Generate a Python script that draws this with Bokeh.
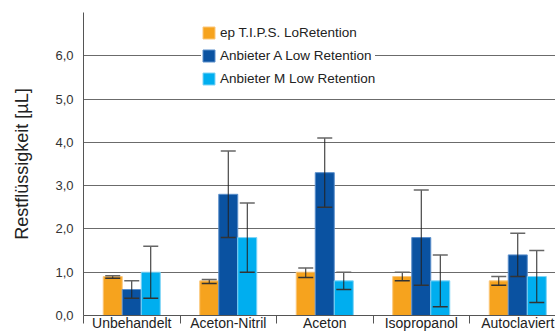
from bokeh.plotting import figure
from bokeh.models import (ColumnDataSource, FixedTicker, Whisker, TeeHead,
                          Legend, LegendItem, Range1d)
from bokeh.embed import file_html
from bokeh.resources import INLINE

categories = ["Unbehandelt", "Aceton-Nitril", "Aceton", "Isopropanol", "Autoclaviert"]
series_names = ["ep T.I.P.S. LoRetention", "Anbieter A Low Retention", "Anbieter M Low Retention"]

ep_tips = [0.9, 0.8, 1.0, 0.9, 0.8]
ep_tips_low = [0.86, 0.74, 0.88, 0.8, 0.7]
ep_tips_high = [0.92, 0.83, 1.1, 1.0, 0.9]

anbieter_a = [0.6, 2.8, 3.3, 1.8, 1.4]
anbieter_a_low = [0.4, 1.8, 2.5, 0.7, 0.9]
anbieter_a_high = [0.8, 3.8, 4.1, 2.9, 1.9]

anbieter_m = [1.0, 1.8, 0.8, 0.8, 0.9]
anbieter_m_low = [0.4, 1.0, 0.6, 0.2, 0.3]
anbieter_m_high = [1.6, 2.6, 1.0, 1.4, 1.5]

y_ticks = [0, 1, 2, 3, 4, 5, 6, 7]
y_tick_labels = ["0,0", "1,0", "2,0", "3,0", "4,0", "5,0", "6,0", ""]

colors = ["#F6A31E", "#0A52A1", "#00AEEF"]
edge_colors = ["#FBC77A", "#5B8FCB", "#7FD4F6"]

FONT = "Liberation Sans"
bar_w = 0.197
offsets = [-bar_w, 0.0, bar_w]

p = figure(width=555, height=333, output_backend="svg", toolbar_location=None,
           x_range=Range1d(0, 4.891), y_range=Range1d(0, 7),
           min_border_left=83, min_border_top=12, min_border_right=0,
           min_border_bottom=17)
p.outline_line_color = None
p.background_fill_color = "white"
p.border_fill_color = "white"

series = [(ep_tips, ep_tips_low, ep_tips_high),
          (anbieter_a, anbieter_a_low, anbieter_a_high),
          (anbieter_m, anbieter_m_low, anbieter_m_high)]

renderers = []
for k, (vals, lo, hi) in enumerate(series):
    xs = [i + 0.5 + offsets[k] for i in range(len(categories))]
    src = ColumnDataSource(dict(x=xs, top=vals, lower=lo, upper=hi))
    r = p.vbar(x="x", top="top", width=bar_w, source=src,
               fill_color=colors[k], line_color=edge_colors[k], line_width=1)
    renderers.append(r)
    w = Whisker(base="x", lower="lower", upper="upper", source=src, level="overlay",
                line_color="#222222", line_width=1,
                upper_head=TeeHead(size=15, line_color="#666666", line_width=1.5),
                lower_head=TeeHead(size=15, line_color="#333333", line_width=1.5))
    p.add_layout(w)

# axes
p.xaxis.ticker = FixedTicker(ticks=[i + 0.5 for i in range(len(categories))],
                             minor_ticks=list(range(len(categories) + 1)))
p.xaxis.major_label_overrides = {i + 0.5: c for i, c in enumerate(categories)}
p.xaxis.major_tick_line_color = None
p.xaxis.major_tick_out = 0
p.xaxis.major_tick_in = 0
p.xaxis.minor_tick_out = 8
p.xaxis.minor_tick_in = 0
p.xaxis.minor_tick_line_color = "#555555"
p.xaxis.axis_line_color = "#555555"
p.xaxis.major_label_standoff = -9
p.xaxis.major_label_text_font = FONT
p.xaxis.major_label_text_font_size = "14px"
p.xaxis.major_label_text_color = "#222222"

p.yaxis.ticker = FixedTicker(ticks=y_ticks)
p.yaxis.major_label_overrides = {t: l for t, l in zip(y_ticks, y_tick_labels)}
p.yaxis.major_tick_line_color = None
p.yaxis.minor_tick_line_color = None
p.yaxis.major_tick_out = 0
p.yaxis.major_tick_in = 0
p.yaxis.major_label_standoff = 10
p.yaxis.major_label_text_font = FONT
p.yaxis.major_label_text_font_size = "13px"
p.yaxis.major_label_text_color = "#333333"
p.yaxis.axis_line_color = "#555555"
p.yaxis.axis_label = "Restflüssigkeit [µL]"
p.yaxis.axis_label_text_font = FONT
p.yaxis.axis_label_text_font_size = "18px"
p.yaxis.axis_label_text_font_style = "normal"
p.yaxis.axis_label_text_color = "#222222"
p.yaxis.axis_label_standoff = 20

p.xgrid.grid_line_color = None
p.ygrid.ticker = FixedTicker(ticks=y_ticks)
p.ygrid.grid_line_color = "#6b6b6b"
p.ygrid.grid_line_width = 1

legend = Legend(items=[LegendItem(label=series_names[k], renderers=[renderers[k]])
                       for k in range(3)],
                location=(118, 229))
legend.glyph_width = 15
legend.glyph_height = 15
legend.label_height = 15
legend.spacing = 8
legend.padding = 8
legend.margin = 0
legend.label_standoff = 4
legend.border_line_color = None
legend.background_fill_color = "white"
legend.background_fill_alpha = 1
legend.label_text_font = FONT
legend.label_text_font_size = "13.5px"
legend.label_text_color = "#222222"
p.add_layout(legend, "center")

open("out.html", "w").write(file_html(p, INLINE))
